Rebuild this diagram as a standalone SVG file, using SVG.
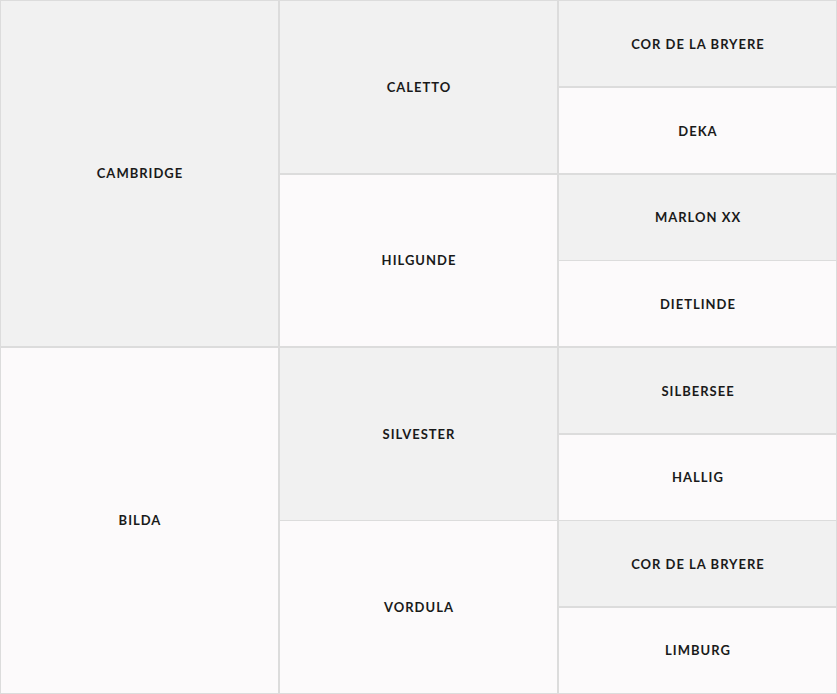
<svg xmlns="http://www.w3.org/2000/svg" width="837" height="694" viewBox="0 0 837 694">
<style>
.g{fill:#f1f1f1;stroke:#dcdcdc;stroke-width:1}
.w{fill:#fcfafb;stroke:#dcdcdc;stroke-width:1}
text{font-family:"Lato","Open Sans",sans-serif;font-weight:700;font-size:13px;fill:#1a1a1a;text-anchor:middle;dominant-baseline:central;letter-spacing:1px}
</style>
<rect width="837" height="694" fill="#fcfafb"/>
<g id="cambridge"><rect class="g" x="0.5" y="0.5" width="278" height="346"/><text x="140" y="173">CAMBRIDGE</text></g>
<g id="bilda"><rect class="w" x="0.5" y="347.5" width="278" height="346"/><text x="140" y="520">BILDA</text></g>
<g id="caletto"><rect class="g" x="279.5" y="0.5" width="278" height="173"/><text x="419" y="87">CALETTO</text></g>
<g id="hilgunde"><rect class="w" x="279.5" y="174.5" width="278" height="172"/><text x="419" y="260">HILGUNDE</text></g>
<g id="silvester"><rect class="g" x="279.5" y="347.5" width="278" height="173"/><text x="419" y="434">SILVESTER</text></g>
<g id="vordula"><rect class="w" x="279.5" y="520.5" width="278" height="173"/><text x="419" y="607">VORDULA</text></g>
<g id="cor1"><rect class="g" x="558.5" y="0.5" width="278" height="86"/><text x="698" y="44">COR DE LA BRYERE</text></g>
<g id="deka"><rect class="w" x="558.5" y="87.5" width="278" height="86"/><text x="698" y="131">DEKA</text></g>
<g id="marlon"><rect class="g" x="558.5" y="174.5" width="278" height="86"/><text x="698" y="217">MARLON XX</text></g>
<g id="dietlinde"><rect class="w" x="558.5" y="260.5" width="278" height="86"/><text x="698" y="304">DIETLINDE</text></g>
<g id="silbersee"><rect class="g" x="558.5" y="347.5" width="278" height="86"/><text x="698" y="391">SILBERSEE</text></g>
<g id="hallig"><rect class="w" x="558.5" y="434.5" width="278" height="86"/><text x="698" y="477">HALLIG</text></g>
<g id="cor2"><rect class="g" x="558.5" y="520.5" width="278" height="86"/><text x="698" y="564">COR DE LA BRYERE</text></g>
<g id="limburg"><rect class="w" x="558.5" y="607.5" width="278" height="86"/><text x="698" y="650">LIMBURG</text></g>
<g id="connectors"/>
</svg>
